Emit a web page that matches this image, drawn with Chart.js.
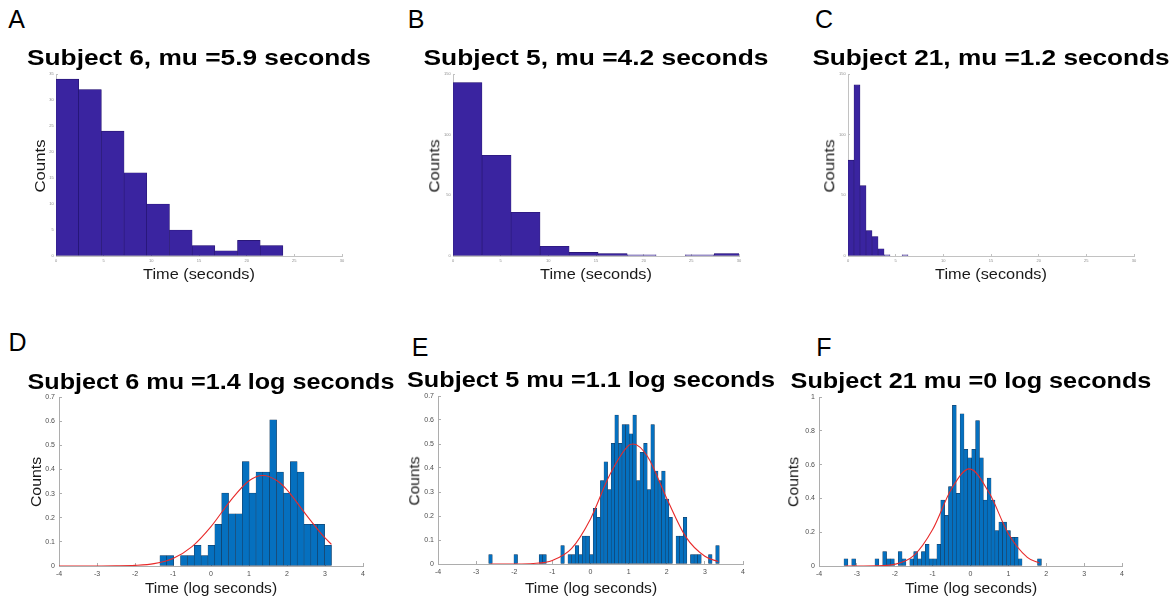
<!DOCTYPE html>
<html><head><meta charset="utf-8">
<script src="https://cdn.jsdelivr.net/npm/chart.js@4.4.1/dist/chart.umd.min.js"></script>
<style>
html,body{margin:0;padding:0;background:#fff;}
body{width:1173px;height:602px;position:relative;overflow:hidden;font-family:'Liberation Sans',Arial,Helvetica,sans-serif;}
canvas{position:absolute;}
.t{position:absolute;white-space:nowrap;line-height:1;font-family:'Liberation Sans',Arial,Helvetica,sans-serif;}
</style></head><body>
<script>
// ---------- DATA ----------
const panelLetters = ['A','B','C','D','E','F'];
const titles = ['Subject 6, mu =5.9 seconds','Subject 5, mu =4.2 seconds','Subject 21, mu =1.2 seconds',
                'Subject 6 mu =1.4 log seconds','Subject 5 mu =1.1 log seconds','Subject 21 mu =0 log seconds'];
const xLabelTop = 'Time (seconds)';
const xLabelBottom = 'Time (log seconds)';
const yLabel = 'Counts';

const topXTicks = [0,5,10,15,20,25,30];
const aYTicks = [0,5,10,15,20,25,30,35];
const bcYTicks = [0,50,100,150];
const logXTicks = [-4,-3,-2,-1,0,1,2,3,4];
const deYTicks = [0,0.1,0.2,0.3,0.4,0.5,0.6,0.7];
const fYTicks = [0,0.2,0.4,0.6,0.8,1];

// Panel A
const aBinCenters = [1.19,3.57,5.95,8.33,10.71,13.09,15.47,17.85,20.23,22.61];
const aCounts = [34,32,24,16,10,5,2,1,3,2];
// Panel B
const bBinCenters = [1.52,4.57,7.61,10.66,13.70,16.75,19.79,22.84,25.88,28.93];
const bCounts = [143,83,36,8,3,2,1,0,1,2];
// Panel C
const cBinCenters = [0.315,0.945,1.575,2.205,2.835,3.465,4.095,4.725,5.355,5.985];
const cCounts = [79,141,58,21,16,6,1,0,0,1];

// Panel D
const dBinCenters = [-1.254,-1.073,-0.893,-0.712,-0.531,-0.351,-0.170,0.011,0.191,0.372,0.552,0.733,0.914,
                     1.094,1.275,1.455,1.636,1.817,1.997,2.178,2.358,2.539,2.720,2.900,3.081];
const dDensity = [0.043,0.043,0,0.043,0.043,0.086,0.043,0.086,0.173,0.302,0.216,0.216,0.432,
                  0.302,0.389,0.389,0.605,0.389,0.302,0.432,0.389,0.173,0.173,0.173,0.086];
const dFitX = [-4,-3.5,-3,-2.5,-2,-1.5,-1,-0.5,0,0.5,1,1.37,1.75,2,2.5,3,3.17];
const dFitY = [0,0,0.0001,0.0005,0.0025,0.0098,0.031,0.080,0.163,0.268,0.353,0.375,0.352,0.315,0.213,0.116,0.090];

// Panel E
const eBinCenters = [-2.623,-2.528,-2.434,-2.339,-2.245,-2.150,-2.056,-1.961,-1.867,-1.772,-1.678,-1.583,-1.489,
  -1.394,-1.300,-1.205,-1.111,-1.016,-0.922,-0.827,-0.733,-0.638,-0.544,-0.449,-0.355,-0.260,-0.166,-0.071,
  0.023,0.118,0.212,0.307,0.401,0.496,0.590,0.685,0.779,0.874,0.968,1.063,1.157,1.252,1.346,1.441,1.535,
  1.630,1.724,1.819,1.913,2.008,2.102,2.197,2.291,2.386,2.480,2.575,2.669,2.764,2.858,2.953,3.047,3.142,
  3.236,3.331];
const eDensity = [0.039,0,0,0,0,0,0,0.039,0,0,0,0,0,
  0,0.039,0.039,0,0,0,0,0.077,0,0.039,0.039,0.077,0.039,0.116,0.116,
  0.039,0.232,0.194,0.348,0.426,0.310,0.503,0.620,0.503,0.581,0.581,0.542,0.620,0.348,0.465,0.503,0.310,
  0.581,0.387,0.348,0.387,0.271,0.194,0,0.116,0.116,0.194,0,0.039,0.039,0.039,0,0,0.039,
  0,0.077];
const eFitX = [-2.62,-2,-1.5,-1,-0.5,0,0.5,1,1.12,1.5,2,2.5,3,3.35];
const eFitY = [0,0.0002,0.0023,0.015,0.064,0.188,0.370,0.494,0.500,0.447,0.273,0.113,0.032,0.010];

// Panel F
const fBinCenters = [-3.289,-3.187,-3.085,-2.982,-2.880,-2.778,-2.676,-2.574,-2.471,-2.369,-2.267,-2.165,-2.063,
  -1.960,-1.858,-1.756,-1.654,-1.552,-1.449,-1.347,-1.245,-1.143,-1.041,-0.938,-0.836,-0.734,-0.632,-0.530,
  -0.427,-0.325,-0.223,-0.121,-0.019,0.084,0.186,0.288,0.390,0.492,0.595,0.697,0.799,0.901,1.003,1.106,
  1.208,1.310,1.412,1.514,1.617,1.719,1.821];
const fDensity = [0.043,0,0.043,0,0,0,0,0,0.043,0,0.085,0.043,0.043,
  0,0.085,0.043,0,0.043,0.085,0.043,0.085,0.128,0.043,0.043,0.128,0.390,0.300,0.470,
  0.950,0.430,0.900,0.690,0.640,0.690,0.860,0.640,0.390,0.520,0.390,0.210,0.260,0.260,0.210,0.170,
  0.170,0.043,0,0,0,0,0.043];
const fFitX = [-3.3,-3,-2.5,-2,-1.5,-1,-0.5,-0.03,0.5,1,1.5,1.82];
const fFitY = [0,0.0001,0.001,0.010,0.061,0.216,0.457,0.575,0.430,0.191,0.051,0.017];

// ---------- DRAWING ----------
const FONT = "'Liberation Sans', Arial, Helvetica, sans-serif";
const topStyle = {fill:'#3a24a0', edge:'#24136b', edgeW:0.6, axis:'#c2c2c2', lab:'#8c8c8c', fs:4, tl:2, xpad:4.2, ypad:4.4};
const botStyle = {fill:'#0570bf', edge:'#173352', edgeW:0.5, axis:'#adadad', lab:'#4d4d4d', fs:7, tl:3, xpad:6.8, ypad:7};

function panel(box, centers, values, fitX, fitY, xTicks, yTicks, s) {
  const ML = 48, MT = 14, MR = 22, MB = 22;
  const l = box[0], t = box[1], r = box[2], b = box[3];
  const W = r - l + ML + MR, H = b - t + MT + MB;
  const cv = document.createElement('canvas');
  cv.width = W; cv.height = H;
  cv.style.left = (l - ML) + 'px'; cv.style.top = (t - MT) + 'px';
  cv.style.width = W + 'px'; cv.style.height = H + 'px';
  document.body.appendChild(cv);
  const datasets = [{
    type: 'bar',
    data: centers.map((x, i) => ({x: x, y: values[i]})),
    backgroundColor: s.fill, borderColor: s.edge, borderWidth: s.edgeW, borderSkipped: false,
    barPercentage: 1, categoryPercentage: 1, clip: 0, order: 1
  }];
  if (fitX) {
    datasets.push({
      type: 'line',
      data: fitX.map((x, i) => ({x: x, y: fitY[i]})),
      borderColor: '#e82a2a', borderWidth: 1.1, pointRadius: 0, fill: false,
      cubicInterpolationMode: 'monotone', order: 0
    });
  }
  const axisCommon = (ticksArr, fitFn, pad) => ({
    type: 'linear', offset: false,
    min: ticksArr[0], max: ticksArr[ticksArr.length - 1],
    afterBuildTicks: sc => { sc.ticks = ticksArr.map(v => ({value: v})); },
    afterFit: fitFn,
    grid: {display: true, offset: false, drawOnChartArea: false, drawTicks: true, tickLength: -s.tl, color: s.axis, lineWidth: 1},
    border: {display: true, color: s.axis, width: 1},
    ticks: {font: {family: FONT, size: s.fs}, color: s.lab, padding: pad, maxRotation: 0, autoSkip: false,
            callback: v => String(v)}
  });
  new Chart(cv, {
    type: 'bar',
    data: {datasets: datasets},
    options: {
      responsive: false, animation: false, devicePixelRatio: 1, events: [],
      layout: {padding: {left: 0, top: MT, right: MR, bottom: 0}},
      plugins: {legend: {display: false}, tooltip: {enabled: false}, title: {display: false}},
      scales: {
        x: axisCommon(xTicks, sc => { sc.height = MB; }, s.xpad),
        y: axisCommon(yTicks, sc => { sc.width = ML; }, s.ypad)
      }
    }
  });
}

function addText(str, cx, cy, size, weight, len, rot, color) {
  const el = document.createElement('div');
  el.className = 't';
  el.textContent = str;
  el.style.fontSize = size + 'px';
  el.style.fontWeight = weight;
  el.style.color = color;
  el.style.left = cx + 'px';
  el.style.top = cy + 'px';
  document.body.appendChild(el);
  const w = el.offsetWidth;
  const sx = len ? len / w : 1;
  el.style.transform = 'translate(-50%,-50%)' + (rot ? ' rotate(-90deg)' : '') + ' scaleX(' + sx.toFixed(4) + ')';
}

const boxes = [[56,74,342,256],[453,74,739,256],[848,74,1134,256],[59,397,363,566],[438,396,743,564],[819,397,1122,566]];

panel(boxes[0], aBinCenters, aCounts, null, null, topXTicks, aYTicks, topStyle);
panel(boxes[1], bBinCenters, bCounts, null, null, topXTicks, bcYTicks, topStyle);
panel(boxes[2], cBinCenters, cCounts, null, null, topXTicks, bcYTicks, topStyle);
panel(boxes[3], dBinCenters, dDensity, dFitX, dFitY, logXTicks, deYTicks, botStyle);
panel(boxes[4], eBinCenters, eDensity, eFitX, eFitY, logXTicks, deYTicks, botStyle);
panel(boxes[5], fBinCenters, fDensity, fFitX, fFitY, logXTicks, fYTicks, botStyle);

// panel letters
const letterPos = [[16.7,19],[416,19],[824,19],[17.5,342.4],[420,346.5],[824,346.5]];
panelLetters.forEach((c, i) => addText(c, letterPos[i][0], letterPos[i][1], 25, 'normal', 0, false, '#000'));

// titles
const titleY = [57.6,57.6,57.6,382.1,380.1,381.1];
const titleW = [344,345,357,367,368,361];
titles.forEach((tx, i) => {
  const bx = boxes[i];
  addText(tx, (bx[0] + bx[2]) / 2, titleY[i], 22, 'bold', titleW[i], false, '#000');
});

// x labels
[0,1,2].forEach(i => { const bx = boxes[i]; addText(xLabelTop, (bx[0]+bx[2])/2, 272.5, 15, 'normal', 112, false, '#1a1a1a'); });
[3,4,5].forEach(i => { const bx = boxes[i]; addText(xLabelBottom, (bx[0]+bx[2])/2, 587.8, 15.5, 'normal', 132, false, '#1a1a1a'); });

// y labels
const yLabPos = [[39.5,165.5,53],[433.5,165.5,53],[829,165.5,53],[35.5,481.7,50],[414,480.5,49],[793,482,50]];
yLabPos.forEach(p => addText(yLabel, p[0], p[1], 15.5, 'normal', p[2], true, '#1a1a1a'));
</script>
</body></html>
